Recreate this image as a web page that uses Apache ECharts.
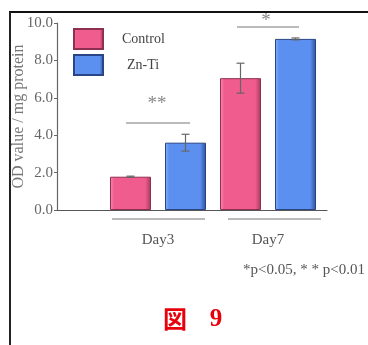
<!DOCTYPE html>
<html>
<head>
<meta charset="utf-8">
<script src="https://cdn.jsdelivr.net/npm/echarts@6/dist/echarts.min.js"></script>
<style>
  html, body { margin: 0; padding: 0; background: #fff; }
  #chart { width: 368px; height: 345px; }
</style>
</head>
<body>
<div id="chart"></div>
<script>
// Enzyme activity per day, mean ± error
const categories = ['Day3', 'Day7'];
const seriesNames = ['Control', 'Zn-Ti'];
const controlValues = [1.78, 7.05];
const controlErrors = [0.03, 0.8];
const zntiValues = [3.6, 9.15];
const zntiErrors = [0.45, 0.05];
const yTicks = [0, 2, 4, 6, 8, 10];
const footnote = '*p<0.05, * * p<0.01';

const SERIF = '"Liberation Serif", "DejaVu Serif", serif';
const BAR_W = 41;
const BAR_GAP = 14;

function bevel(light, base, dark) {
  return {
    type: 'linear', x: 0, y: 0, x2: 1, y2: 0,
    colorStops: [
      { offset: 0, color: light },
      { offset: 0.1, color: base },
      { offset: 0.86, color: base },
      { offset: 1, color: dark }
    ]
  };
}
const pinkFill = bevel('#f78fb0', '#f05c8e', '#a33a60');
const blueFill = bevel('#8ab0f7', '#5b8ff0', '#2f4f95');

function errorSeries(name, values, errors, side) {
  return {
    type: 'custom',
    name: name + ' err',
    xAxisIndex: 1, yAxisIndex: 1,
    z: 5,
    silent: true,
    data: values.map((v, i) => [i, v, errors[i]]),
    renderItem: function (params, api) {
      const i = api.value(0), v = api.value(1), e = api.value(2);
      const off = side * (BAR_W + BAR_GAP) / 2;
      const hi = api.coord([i, v + e]);
      const lo = api.coord([i, v - e]);
      const x = hi[0] + off;
      const cap = 4;
      const st = { stroke: '#666', lineWidth: 1.2 };
      return {
        type: 'group',
        children: [
          { type: 'line', shape: { x1: x, y1: hi[1], x2: x, y2: lo[1] }, style: st },
          { type: 'line', shape: { x1: x - cap, y1: hi[1], x2: x + cap, y2: hi[1] }, style: st },
          { type: 'line', shape: { x1: x - cap, y1: lo[1], x2: x + cap, y2: lo[1] }, style: st }
        ]
      };
    }
  };
}

const chart = echarts.init(document.getElementById('chart'), null, { renderer: 'canvas' });

const option = {
  backgroundColor: '#fff',
  animation: false,
  legend: {
    orient: 'vertical',
    left: 73, top: 28, padding: 0,
    itemWidth: 29, itemHeight: 20, itemGap: 4,
    icon: 'rect',
    data: [
      { name: seriesNames[0] },
      { name: seriesNames[1], textStyle: { padding: [0, 0, 0, 19] } }
    ],
    textStyle: { fontFamily: SERIF, fontSize: 14, color: '#444', padding: [0, 0, 0, 14] }
  },
  grid: [
    { left: 57, right: 41, top: 23, bottom: 135, outerBoundsMode: 'none' },
    { left: 103, right: 45, top: 23, bottom: 135, outerBoundsMode: 'none' }
  ],
  xAxis: [
    {
      gridIndex: 0, type: 'category', data: [''],
      axisLine: { lineStyle: { color: '#555', width: 1.2 } },
      axisTick: { show: false }, axisLabel: { show: false }
    },
    {
      gridIndex: 1, type: 'category', data: categories,
      axisLine: { show: false }, axisTick: { show: false },
      axisLabel: { margin: 23, fontFamily: SERIF, fontSize: 15, color: '#555' }
    }
  ],
  yAxis: [
    {
      gridIndex: 0, type: 'value', min: 0, max: 10, interval: 2,
      name: 'OD value / mg protein',
      nameLocation: 'middle', nameGap: 30, nameMoveOverlap: false,
      nameTextStyle: { fontFamily: SERIF, fontSize: 16, color: '#777' },
      axisLine: { show: true, lineStyle: { color: '#666', width: 1.2 } },
      axisTick: { show: true, length: 3, lineStyle: { color: '#666' } },
      axisLabel: {
        margin: 4, fontFamily: SERIF, fontSize: 15, color: '#666',
        formatter: v => yTicks.includes(v) ? v.toFixed(1) : ''
      },
      splitLine: { show: false }
    },
    {
      gridIndex: 1, type: 'value', min: 0, max: 10, interval: 2,
      show: false, splitLine: { show: false }
    }
  ],
  series: [
    {
      type: 'bar', name: seriesNames[0], xAxisIndex: 1, yAxisIndex: 1,
      data: controlValues, barWidth: BAR_W, barGap: (BAR_GAP / BAR_W * 100) + '%',
      itemStyle: { color: pinkFill, borderColor: '#8e2f52', borderWidth: 1 }
    },
    {
      type: 'bar', name: seriesNames[1], xAxisIndex: 1, yAxisIndex: 1,
      data: zntiValues, barWidth: BAR_W,
      itemStyle: { color: blueFill, borderColor: '#2a4585', borderWidth: 1 }
    },
    errorSeries(seriesNames[0], controlValues, controlErrors, -1),
    errorSeries(seriesNames[1], zntiValues, zntiErrors, 1)
  ],
  graphic: [
    // frame
    { type: 'line', shape: { x1: 9, y1: 12, x2: 368, y2: 12 }, style: { stroke: '#111', lineWidth: 2 } },
    { type: 'line', shape: { x1: 10, y1: 12, x2: 10, y2: 345 }, style: { stroke: '#222', lineWidth: 2 } },
    // group underlines
    { type: 'line', shape: { x1: 112, y1: 219, x2: 205, y2: 219 }, style: { stroke: '#777', lineWidth: 1 } },
    { type: 'line', shape: { x1: 228, y1: 219, x2: 321, y2: 219 }, style: { stroke: '#777', lineWidth: 1 } },
    // significance brackets
    { type: 'line', shape: { x1: 126, y1: 123, x2: 190, y2: 123 }, style: { stroke: '#777', lineWidth: 1 } },
    { type: 'text', x: 157, y: 104, style: { text: '**', fill: '#888', font: '19px ' + SERIF, textAlign: 'center', textVerticalAlign: 'middle' } },
    { type: 'line', shape: { x1: 237, y1: 27, x2: 299, y2: 27 }, style: { stroke: '#777', lineWidth: 1 } },
    { type: 'text', x: 266, y: 21, style: { text: '*', fill: '#888', font: '19px ' + SERIF, textAlign: 'center', textVerticalAlign: 'middle' } },
    // footnote
    { type: 'text', x: 243, y: 270, style: { text: footnote, fill: '#555', font: '15px ' + SERIF, textVerticalAlign: 'middle' } },
    // figure number
    { type: 'text', x: 175, y: 319, style: { text: '図', fill: '#e8000b', font: 'bold 24px "Noto Sans CJK JP"', textAlign: 'center', textVerticalAlign: 'middle' } },
    { type: 'text', x: 216, y: 320, style: { text: '9', fill: '#e8000b', font: 'bold 25px ' + SERIF, textAlign: 'center', textVerticalAlign: 'middle' } }
  ]
};

chart.setOption(option);
</script>
</body>
</html>
